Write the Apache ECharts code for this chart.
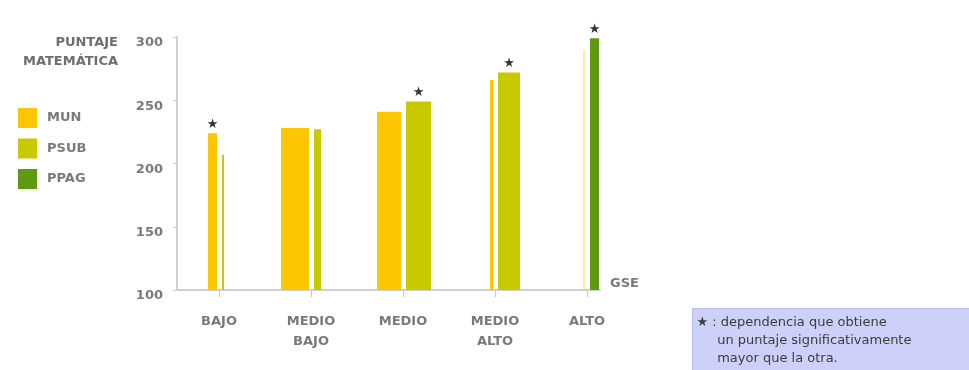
<!DOCTYPE html>
<html>
<head>
<meta charset="utf-8">
<script src="https://cdn.jsdelivr.net/npm/echarts@6/dist/echarts.min.js"></script>
<style>
  html, body { margin: 0; padding: 0; background: #fff; }
  #chart { width: 969px; height: 370px; }
</style>
</head>
<body>
<div id="chart"></div>
<script>
// puntaje promedio por GSE y dependencia
var categories = ['BAJO', 'MEDIO\nBAJO', 'MEDIO', 'MEDIO\nALTO', 'ALTO'];
var munScores = [224, 228, 241, 266, null];
var psubScores = [207, 227, 249, 272, 290];
var ppagScores = [null, null, null, null, 299];
// dependencia con puntaje significativamente mayor (lleva estrella)
var significant = ['MUN', null, 'PSUB', 'PSUB', 'PPAG'];
var yMin = 100, yMax = 300, yStep = 50;
var yTitle = 'PUNTAJE\nMATEMÁTICA';
var xTitle = 'GSE';

// ancho de cada barra [izquierda, derecha] como en la imagen
var barWidths = [[9, 2], [28, 7], [24, 25], [3, 22], [2, 9]];
var colors = { MUN: '#fcc600', PSUB: '#c9c900', PPAG: '#5e9a10' };
var font = 'DejaVu Sans';
var seriesScores = { MUN: munScores, PSUB: psubScores, PPAG: ppagScores };
var order = ['MUN', 'PSUB', 'PPAG'];

function firstAt(i) {
    for (var k = 0; k < order.length; k++) {
        if (seriesScores[order[k]][i] != null) return order[k];
    }
    return null;
}

function makeRender(name) {
    return function(params, api) {
        var i = api.value(0);
        var v = api.value(1);
        var top = api.coord([i, v]);
        var base = api.coord([i, yMin]);
        var isLeft = firstAt(i) === name;
        var w = barWidths[i][isLeft ? 0 : 1];
        var x = isLeft ? top[0] - 2 - w : top[0] + 3;
        var style = api.style();
        var opacity = (name === 'PSUB' && i === 4) ? 0.3 : 1;
        var children = [{
            type: 'rect',
            shape: { x: x, y: top[1], width: w, height: base[1] - top[1] },
            style: { fill: style.fill, opacity: opacity }
        }];
        if (significant[i] === name) {
            children.push({
                type: 'text',
                style: {
                    text: '★', x: x + w / 2, y: top[1] - 2,
                    align: 'center', verticalAlign: 'bottom',
                    textAlign: 'center', textVerticalAlign: 'bottom',
                    fill: '#333', font: '13px "' + font + '"'
                }
            });
        }
        return { type: 'group', children: children };
    };
}

function makeSeries(name) {
    var data = [];
    var vals = seriesScores[name];
    for (var i = 0; i < vals.length; i++) {
        if (vals[i] != null) data.push([i, vals[i]]);
    }
    return {
        name: name,
        type: 'custom',
        xAxisIndex: 1,
        yAxisIndex: 1,
        itemStyle: { color: colors[name] },
        encode: { x: 0, y: 1 },
        renderItem: makeRender(name),
        data: data
    };
}

var axisGray = '#d0d0d0';
var labelStyle = { color: '#7a7a7a', fontFamily: font, fontWeight: 'bold', fontSize: 13 };

var myChart = echarts.init(document.getElementById('chart'));
var option = {
    animation: false,
    backgroundColor: '#fff',
    color: [colors.MUN, colors.PSUB, colors.PPAG],
    grid: [
        { left: 177, top: 37, width: 423, height: 253, containLabel: false, outerBoundsMode: 'none' },
        { left: 173, top: 37, width: 460, height: 253, containLabel: false, outerBoundsMode: 'none' }
    ],
    legend: {
        data: order,
        orient: 'vertical',
        left: 13,
        top: 103,
        icon: 'rect',
        itemWidth: 19,
        itemHeight: 20,
        itemGap: 10.5,
        selectedMode: false,
        textStyle: { color: '#7a7a7a', fontFamily: font, fontWeight: 'bold', fontSize: 13, padding: [0, 0, 0, 5] }
    },
    xAxis: [
        {
            type: 'value', gridIndex: 0, min: 0, max: 1,
            axisLine: { show: true, lineStyle: { color: axisGray, width: 2 } },
            axisTick: { show: false },
            axisLabel: { show: false },
            splitLine: { show: false },
            name: xTitle,
            nameLocation: 'end',
            nameGap: 10,
            nameTextStyle: { color: '#7a7a7a', fontFamily: font, fontWeight: 'bold', fontSize: 13, verticalAlign: 'bottom' }
        },
        {
            type: 'category', gridIndex: 1, data: categories,
            axisLine: { show: false },
            axisTick: { show: true, alignWithLabel: true, length: 7, lineStyle: { color: '#c4cad6' } },
            axisLabel: Object.assign({ margin: 22, lineHeight: 20 }, labelStyle),
            splitLine: { show: false }
        }
    ],
    yAxis: [
        {
            type: 'value', gridIndex: 0, min: yMin, max: yMax, interval: yStep,
            axisLine: { show: true, lineStyle: { color: axisGray, width: 2 } },
            axisTick: { show: true, length: 4, lineStyle: { color: axisGray } },
            axisLabel: Object.assign({ margin: 14, verticalAlign: 'top', lineHeight: 12 }, labelStyle),
            splitLine: { show: false }
        },
        {
            type: 'value', gridIndex: 1, min: yMin, max: yMax, show: false
        }
    ],
    series: order.map(makeSeries),
    graphic: [
        {
            // titulo del eje Y
            type: 'text',
            x: 118,
            y: 33,
            style: {
                text: yTitle,
                align: 'right',
                textAlign: 'right',
                fill: '#6e6e6e',
                font: 'bold 13px "' + font + '"',
                lineHeight: 19
            }
        },
        {
            type: 'group',
            left: 692,
            top: 308,
            children: [
                {
                    type: 'rect',
                    shape: { x: 0, y: 0, width: 290, height: 62 },
                    style: { fill: '#cdd0f8', stroke: '#b3b8f0', lineWidth: 1 }
                },
                {
                    type: 'text',
                    x: 4, y: 5,
                    style: {
                        text: '★ : dependencia que obtiene\n     un puntaje significativamente\n     mayor que la otra.',
                        fill: '#3c3c3c', font: '13px "' + font + '"', lineHeight: 18
                    }
                }
            ]
        }
    ]
};
if (option && typeof option === "object") {
    myChart.setOption(option, true);
}
</script>
</body>
</html>
